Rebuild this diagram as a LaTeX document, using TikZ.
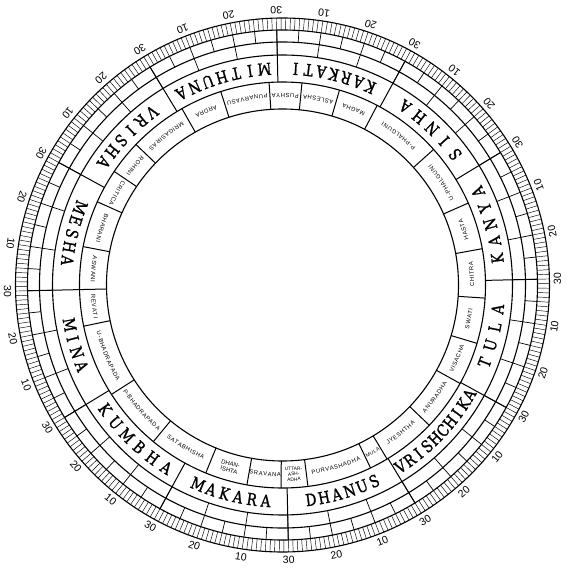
\documentclass[tikz,border=0pt]{standalone}
\usepackage{fontspec}
\newfontfamily\signfont[FakeStretch=0.82,FakeBold=1.2]{DejaVu Serif}
\newfontfamily\nakfont{Liberation Sans}
\newfontfamily\numfont{Liberation Sans}
\newcommand{\OFF}{181.3}
\newcommand{\NFS}{5.9}
\newcommand{\nakf}{\nakfont\fontsize{\NFS}{\NFS}\selectfont}
\newcommand{\LSP}{0.55}
\newcommand{\NR}{189.5}
\newcommand{\NRB}{191.6}
% advance widths of Liberation Sans capitals (em)
\newcommand{\defw}[2]{\expandafter\gdef\csname nw#1\endcsname{#2}}
\defw{A}{0.667}\defw{B}{0.667}\defw{C}{0.722}\defw{D}{0.722}\defw{E}{0.667}
\defw{G}{0.778}\defw{H}{0.722}\defw{I}{0.278}\defw{J}{0.5}\defw{L}{0.556}
\defw{M}{0.833}\defw{N}{0.722}\defw{O}{0.778}\defw{P}{0.667}\defw{R}{0.722}
\defw{S}{0.667}\defw{T}{0.611}\defw{U}{0.722}\defw{V}{0.667}\defw{W}{0.944}
\defw{Y}{0.667}\defw{-}{0.333}
\tikzset{
  ring/.style={line width=1.1pt},
  tick/.style={line width=0.45pt},
  divline/.style={line width=0.7pt},
  bound/.style={line width=1pt},
  signl/.style={font=\signfont\fontsize{16.5}{16.5}\selectfont, inner sep=0pt},
  nakc/.style={font=\nakf, inner sep=0pt, anchor=base},
  nak/.style={font=\nakfont\fontsize{6}{6.4}\selectfont, inner sep=0pt, align=center},
  naksm/.style={font=\nakfont\fontsize{4.8}{5.4}\selectfont, inner sep=0pt, align=center},
  num/.style={font=\numfont\fontsize{10.5}{10.5}\selectfont, inner sep=0pt}
}
\newcommand{\signword}[4]{%
  \foreach \ch [count=\i] in {#4} {
    \pgfmathsetmacro\ang{\OFF - 30*#1 - 15 + (\i-1-(#3-1)/2)*#2}
    \node[signl, rotate=\ang+90] (s#1-\i) at (\ang:216.5) {\ch};
  }}
% nakshatra name set along the arc: #1 index, #2 start, #3 end (degrees of longitude), #4 letters
\newcommand{\nakarc}[4]{%
  \gdef\totw{0}%
  \foreach \ch in {#4}{%
    \edef\cw{\csname nw\ch\endcsname}%
    \pgfmathsetmacro\tmpw{\totw+\cw*\NFS+\LSP}\xdef\totw{\tmpw}}%
  \pgfmathsetmacro\spandeg{(\totw-\LSP)/\NR*57.29578}%
  \pgfmathsetmacro\stang{\OFF-(#2+#3)/2-\spandeg/2}%
  \xdef\stang{\stang}%
  \gdef\cumw{0}%
  \foreach \ch [count=\j] in {#4}{%
    \edef\cw{\csname nw\ch\endcsname}%
    \pgfmathsetmacro\ang{\stang+(\cumw+\cw*\NFS/2)/\NR*57.29578}%
    \node[nakc, rotate=\ang+90] (q#1-\j) at (\ang:\NRB) {\ch};
    \pgfmathsetmacro\tmpw{\cumw+\cw*\NFS+\LSP}\xdef\cumw{\tmpw}%
  }}
\begin{document}
\begin{tikzpicture}[x=1pt,y=1pt]
\useasboundingbox (-282.5,-285) rectangle (284.5,285);
% circles
\foreach \r in {267,255,243,230,203,176} \draw[ring] (0,0) circle (\r);
% degree ticks
\foreach \d in {0,...,359} \draw[tick] (\OFF-\d:255) -- (\OFF-\d:267);
% subdivision rings
\foreach \d in {0,5,...,355} \draw[divline] (\OFF-\d:243) -- (\OFF-\d:255);
\foreach \d in {0,10,...,350} \draw[divline] (\OFF-\d:230) -- (\OFF-\d:243);
% sign boundaries
\foreach \d in {0,30,...,330} \draw[bound] (\OFF-\d:203) -- (\OFF-\d:255);
% nakshatra boundaries
\foreach \d in {0,12.2,25.5,35.3,45.1,61.6,73.6,87.5,96.8,107.6,119.1,139.4,157.5,171,185,198,210.3,225,240.3,245.6,264.1,271.7,281.4,293.5,310.8,328.7,349.6}
  \draw[bound] (\OFF-\d:176) -- (\OFF-\d:203);
% degree numbers
\foreach \k in {0,...,35} {
  \pgfmathtruncatemacro\lab{(mod(\k+2,3)+1)*10}
  \pgfmathsetmacro\ang{\OFF-10*\k}
  \node[num, rotate=\ang+90] (n\k) at (\ang:275) {\lab};
}
% sign names
\signword{0}{3.6}{5}{M,E,S,H,A}
\signword{1}{3.7}{6}{V,R,I,S,H,A}
\signword{2}{3.84}{7}{M,I,T,H,U,N,A}
\signword{3}{3.4}{7}{K,A,R,K,A,T,I}
\signword{4}{4.6}{5}{S,I,N,H,A}
\signword{5}{4.6}{5}{K,A,N,Y,A}
\signword{6}{4.85}{4}{T,U,L,A}
\signword{7}{2.95}{10}{V,R,I,S,H,C,H,I,K,A}
\signword{8}{3.5}{6}{D,H,A,N,U,S}
\signword{9}{3.7}{6}{M,A,K,A,R,A}
\signword{10}{4.5}{6}{K,U,M,B,H,A}
\signword{11}{3.8}{4}{M,I,N,A}
% nakshatra names
\nakarc{1}{0}{12.2}{A,S,W,A,N,I}
\nakarc{2}{12.2}{25.5}{B,H,A,R,A,N,I}
\nakarc{3}{25.5}{35.3}{C,R,I,T,I,C,A}
\nakarc{4}{35.3}{45.1}{R,O,H,I,N,I}
\nakarc{5}{45.1}{61.6}{M,R,I,G,A,S,I,R,A,S}
\nakarc{6}{61.6}{73.6}{A,R,D,R,A}
\nakarc{7}{73.6}{87.5}{P,U,N,A,R,V,A,S,U}
\nakarc{8}{87.5}{96.8}{P,U,S,H,Y,A}
\nakarc{9}{96.8}{107.6}{A,S,L,E,S,H,A}
\nakarc{10}{107.6}{119.1}{M,A,G,H,A}
\nakarc{11}{119.1}{139.4}{P,-,P,H,A,L,G,U,N,I}
\nakarc{12}{139.4}{157.5}{U,-,P,H,A,L,G,U,N,I}
\nakarc{13}{157.5}{171}{H,A,S,T,A}
\nakarc{14}{171}{185}{C,H,I,T,R,A}
\nakarc{15}{185}{198}{S,W,A,T,I}
\nakarc{16}{198}{210.3}{V,I,S,A,C,H,A}
\nakarc{17}{210.3}{225}{A,N,U,R,A,D,H,A}
\nakarc{18}{225}{240.3}{J,Y,E,S,H,T,H,A}
\renewcommand{\NFS}{5}\renewcommand{\LSP}{0.3}
\nakarc{19}{240.3}{245.6}{M,U,L,A}
\renewcommand{\NFS}{5.9}\renewcommand{\LSP}{0.55}
\nakarc{20}{245.6}{264.1}{P,U,R,V,A,S,H,A,D,H,A}
\nakarc{22}{271.7}{281.4}{S,R,A,V,A,N,A}
\nakarc{24}{293.5}{310.8}{S,A,T,A,B,H,I,S,H,A}
\nakarc{25}{310.8}{328.7}{P,-,B,H,A,D,R,A,P,A,D,A}
\nakarc{26}{328.7}{349.6}{U,-,B,H,A,D,R,A,P,A,D,A}
\nakarc{27}{349.6}{360}{R,E,V,A,T,I}
\pgfmathsetmacro\ang{\OFF-(281.4+293.5)/2}
\node[nak, rotate=\ang+90] (k23) at (\ang:189.5) {DHAN-\\ISHTA};
\pgfmathsetmacro\ang{\OFF-(264.1+271.7)/2}
\node[naksm, rotate=\ang+90] (k21) at (\ang:189.5) {UTTAR-\\ASH-\\ADHA};
\end{tikzpicture}
\end{document}
